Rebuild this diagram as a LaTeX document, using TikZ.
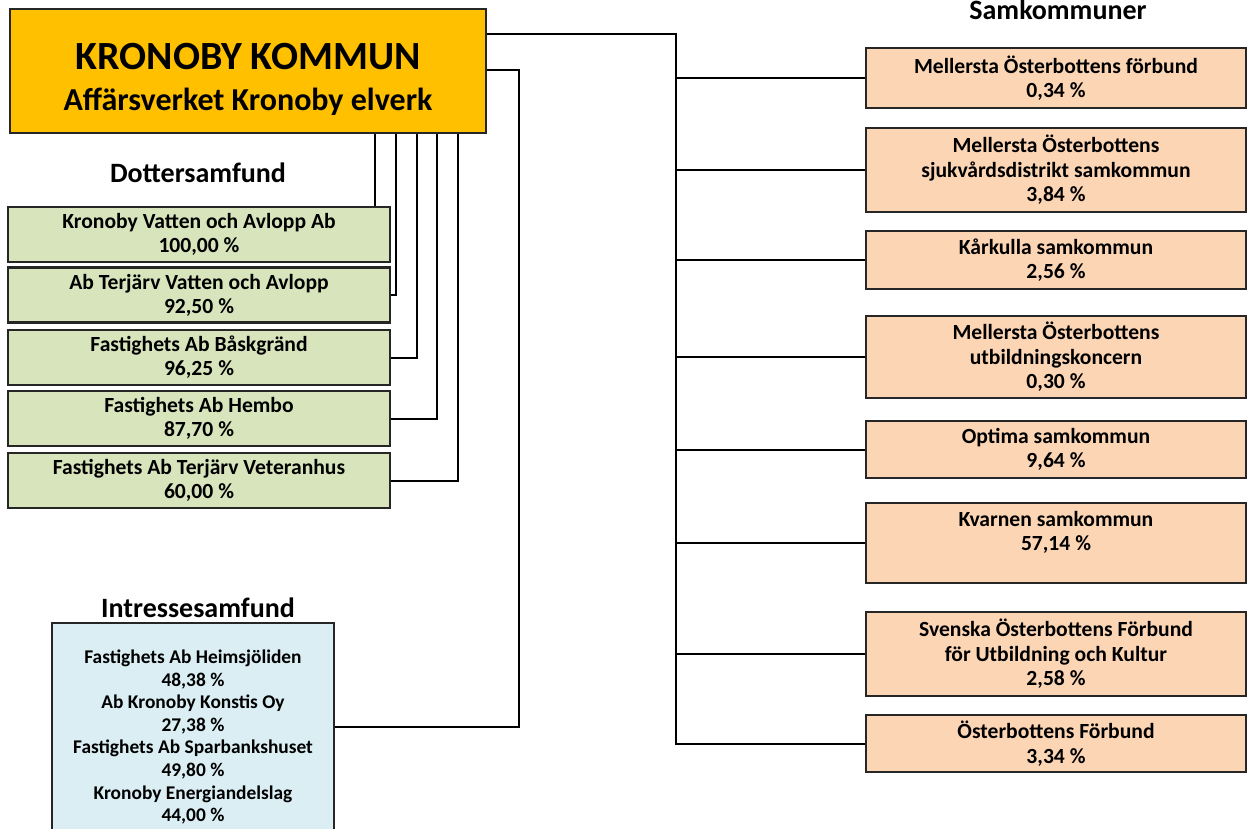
\documentclass[tikz,border=0pt]{standalone}
\usepackage{fontspec}
\setmainfont{Carlito}
\definecolor{kommun}{HTML}{FFC000}
\definecolor{dotter}{HTML}{D8E4BC}
\definecolor{intresse}{HTML}{DAEEF3}
\definecolor{samk}{HTML}{FCD5B4}
\tikzset{
  orgbox/.style={draw=black!85, line width=1.1pt, rectangle, inner sep=0pt, align=center},
  dbox/.style={orgbox, fill=dotter, minimum width=191pt, minimum height=27.5pt,
    font=\fontsize{10.8}{12}\selectfont\bfseries},
  sbox/.style={orgbox, fill=samk, minimum width=190pt,
    font=\fontsize{10.8}{12.25}\selectfont\bfseries},
  rubrik/.style={font=\fontsize{14}{16}\selectfont\bfseries},
  link/.style={line width=1pt}
}

\begin{document}
\begin{tikzpicture}[x=0.5pt, y=-0.5pt]
\useasboundingbox (0,0) rectangle (1248,829);

% kommunen
\node[orgbox, fill=kommun, minimum width=238pt, minimum height=62pt,
  font=\fontsize{20}{20.5}\selectfont\bfseries] (KK) at (248,71)
  {\mbox{}\\[1.5pt]KRONOBY KOMMUN\\
   {\fontsize{16}{20.5}\selectfont Affärsverket Kronoby elverk}};

% dottersamfund
\node[rubrik] (Dt) at (198,173) {Dottersamfund};
\node[dbox] (D1) at (199,234.5) {Kronoby Vatten och Avlopp Ab\\100,00 \%};
\node[dbox] (D2) at (199,295) {Ab Terjärv Vatten och Avlopp\\92,50 \%};
\node[dbox] (D3) at (199,357.5) {Fastighets Ab Båskgränd\\96,25 \%};
\node[dbox] (D4) at (199,418.5) {Fastighets Ab Hembo\\87,70 \%};
\node[dbox] (D5) at (199,480.5) {Fastighets Ab Terjärv Veteranhus\\60,00 \%};

\draw[link] ([xshift=183pt]KK.south west) -- ([xshift=183pt]KK.south west |- D1.north);
\draw[link] (D2.east) -| ([xshift=193.5pt]KK.south west);
\draw[link] (D3.east) -| ([xshift=204pt]KK.south west);
\draw[link] (D4.east) -| ([xshift=214pt]KK.south west);
\draw[link] (D5.east) -| ([xshift=224.5pt]KK.south west);

% intressesamfund
\node[rubrik] (It) at (198,608) {Intressesamfund};
\node[orgbox, fill=intresse, minimum width=141pt, minimum height=104pt] (I) at (193,727) {};
\node[align=center, font=\fontsize{9.7}{11.3}\selectfont\bfseries] (Itxt) at (193,737)
  {Fastighets Ab Heimsjöliden\\48,38 \%\\Ab Kronoby Konstis Oy\\27,38 \%\\
   Fastighets Ab Sparbankshuset\\49,80 \%\\Kronoby Energiandelslag\\44,00 \%};
\coordinate (ibus) at (519,0);
\draw[link] ([yshift=-31pt]KK.north east) -| (ibus |- I.east) -- (I.east);

% samkommuner
\node[rubrik] (St) at (1058,10) {Samkommuner};
\node[sbox, minimum height=30pt] (S1) at (1056,78) {Mellersta Österbottens förbund\\0,34 \%};
\node[sbox, minimum height=42pt] (S2) at (1056,170) {Mellersta Österbottens\\sjukvårdsdistrikt samkommun\\3,84 \%};
\node[sbox, minimum height=29pt] (S3) at (1056,260) {Kårkulla samkommun\\2,56 \%};
\node[sbox, minimum height=41pt] (S4) at (1056,357) {Mellersta Österbottens\\utbildningskoncern\\0,30 \%};
\node[sbox, minimum height=28.5pt] (S5) at (1056,449.5) {Optima samkommun\\9,64 \%};
\node[sbox, minimum height=40pt] (S6) at (1056,543) {Kvarnen samkommun\\57,14 \%\\\mbox{}};
\node[sbox, minimum height=42pt] (S7) at (1056,654) {Svenska Österbottens Förbund\\för Utbildning och Kultur\\2,58 \%};
\node[sbox, minimum height=28.5pt] (S8) at (1056,743.5) {Österbottens Förbund\\3,34 \%};

\coordinate (bus) at (676,0);
\draw[link] ([yshift=-13pt]KK.north east) -| (bus |- S8.west) -- (S8.west);
\foreach \s in {S1,S2,S3,S4,S5,S6,S7}
  \draw[link] (bus |- \s.west) -- (\s.west);
\end{tikzpicture}
\end{document}
